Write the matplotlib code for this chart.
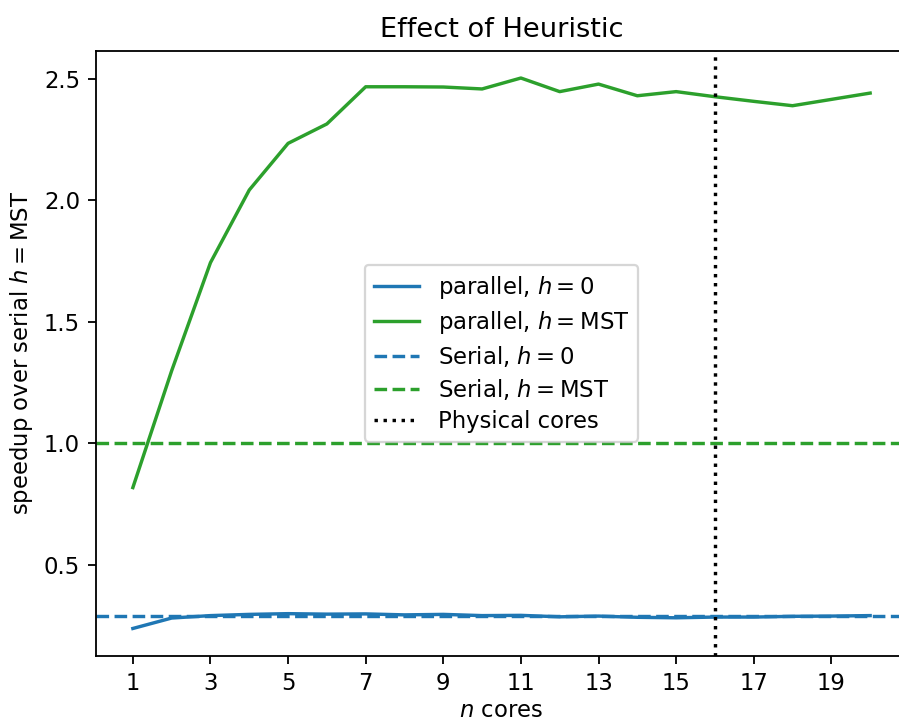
import matplotlib
matplotlib.use("Agg")
import matplotlib.pyplot as plt

cores = list(range(1, 21))
parallel_h0 = [0.237, 0.280, 0.290, 0.295, 0.298, 0.296, 0.297, 0.293, 0.295, 0.290,
               0.291, 0.285, 0.288, 0.283, 0.281, 0.284, 0.284, 0.287, 0.288, 0.290]
parallel_mst = [0.817, 1.298, 1.743, 2.042, 2.234, 2.314, 2.467, 2.467, 2.466, 2.458,
                2.503, 2.447, 2.478, 2.430, 2.447, 2.426, 2.407, 2.389, 2.415, 2.441]
serial_h0 = 0.29
serial_mst = 1.0
physical_cores = 16
xticks = [1, 3, 5, 7, 9, 11, 13, 15, 17, 19]

DPI = 163.5
fig = plt.figure(figsize=(899/DPI, 721/DPI), dpi=DPI)
ax = fig.add_axes([96/899, 1-656/721, (907-96)/899, (656-50.5)/721])
ax.plot(cores, parallel_h0, color='C0', label=r'parallel, $h = 0$')
ax.plot(cores, parallel_mst, color='C2', label=r'parallel, $h = \mathrm{MST}$')
ax.axhline(serial_h0, color='C0', linestyle='--', label=r'Serial, $h = 0$')
ax.axhline(serial_mst, color='C2', linestyle='--', label=r'Serial, $h = \mathrm{MST}$')
ax.axvline(physical_cores, color='black', linestyle=':', label='Physical cores')
ax.set_xticks(xticks)
ax.set_xlabel(r'$n$ cores', labelpad=2)
ax.set_ylabel(r'speedup over serial $h = \mathrm{MST}$')
ax.set_title('Effect of Heuristic')
ax.legend(loc='center', labelspacing=0.35)
fig.savefig('out.png', dpi=DPI)
